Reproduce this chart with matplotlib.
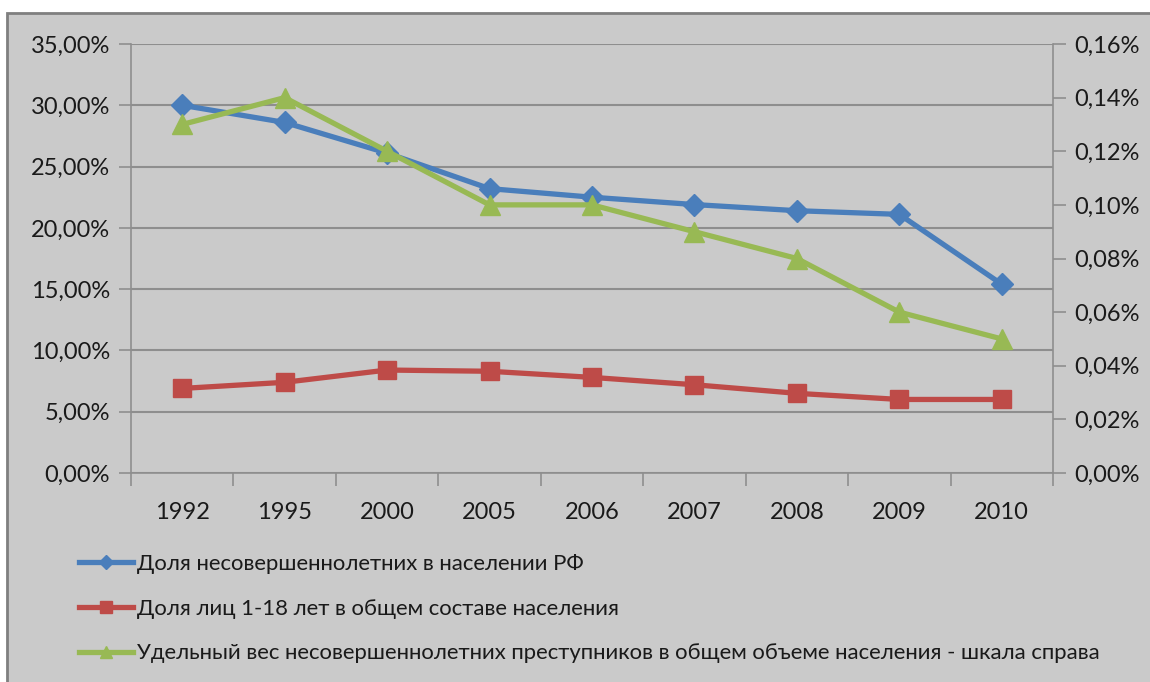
import matplotlib
matplotlib.use("Agg")
import matplotlib.pyplot as plt
from matplotlib.patches import Rectangle
from matplotlib.ticker import FuncFormatter, MultipleLocator
from matplotlib.lines import Line2D

years = ["1992", "1995", "2000", "2005", "2006", "2007", "2008", "2009", "2010"]
minors_share = [30.0, 28.6, 26.1, 23.2, 22.5, 21.9, 21.4, 21.1, 15.4]
age_1_18_share = [6.9, 7.4, 8.4, 8.3, 7.8, 7.2, 6.5, 6.0, 6.0]
offenders_share = [0.13, 0.14, 0.12, 0.10, 0.10, 0.09, 0.08, 0.06, 0.05]
labels = [
    "Доля несовершеннолетних в населении РФ",
    "Доля лиц 1-18 лет в общем составе населения",
    "Удельный вес несовершеннолетних преступников в общем объеме населения - шкала справа",
]

BLUE = "#4a7ebb"
RED = "#be4b48"
GREEN = "#98b954"
BG = "#cacaca"
GRID = "#8e8e8e"
TXT = "#1a1a1a"

plt.rcParams["font.family"] = ["Lato", "DejaVu Sans"]

W, H = 1150, 682
fig = plt.figure(figsize=(W / 100, H / 100), dpi=100, facecolor="white")
fig.patches.append(Rectangle((7 / W, -0.01), 1.05, 1 - 13 / H + 0.01,
                             transform=fig.transFigure, facecolor=BG,
                             edgecolor="#7f7f7f", linewidth=2, zorder=-5))

ax = fig.add_axes([131 / W, 1 - 473 / H, (1053 - 131) / W, (473 - 44) / H])
ax.set_facecolor("none")
x = list(range(len(years)))

ax.set_xlim(-0.5, len(years) - 0.5)
ax.set_ylim(0, 35)
ax.yaxis.set_major_locator(MultipleLocator(5))
ax.yaxis.set_major_formatter(FuncFormatter(lambda v, p: f"{v:.2f}%".replace(".", ",")))
ax.set_xticks(x)
ax.set_xticklabels(years)
ax.set_xticks([i - 0.5 for i in range(len(years) + 1)], minor=True)
ax.tick_params(axis="x", which="major", length=0, pad=21, labelsize=17, labelcolor=TXT)
ax.tick_params(axis="x", which="minor", length=9, color=GRID, width=1.2)
ax.tick_params(axis="y", length=9, color=GRID, width=1.2, labelsize=17, labelcolor=TXT, pad=6)
ax.grid(axis="y", color=GRID, linewidth=1.5, zorder=1)
ax.set_axisbelow(True)
ax.spines["top"].set_visible(False)
for s in ["left", "bottom", "right"]:
    ax.spines[s].set_color(GRID)
    ax.spines[s].set_linewidth(1.2)

ax.plot(x, minors_share, color=BLUE, lw=3.8, marker="D", ms=11, zorder=3)
ax.plot(x, age_1_18_share, color=RED, lw=3.8, marker="s", ms=13, zorder=3)

ax2 = ax.twinx()
ax2.set_ylim(0, 0.16)
ax2.yaxis.set_major_locator(MultipleLocator(0.02))
ax2.yaxis.set_major_formatter(FuncFormatter(lambda v, p: f"{v:.2f}%".replace(".", ",")))
ax2.tick_params(axis="y", length=9, color=GRID, width=1.2, labelsize=17, labelcolor=TXT, pad=6)
for s in ["left", "bottom", "right", "top"]:
    ax2.spines[s].set_visible(False)
ax2.plot(x, offenders_share, color=GREEN, lw=3.8, marker="^", ms=14, zorder=3)

handles = [
    Line2D([], [], color=BLUE, lw=3.8, marker="D", ms=7),
    Line2D([], [], color=RED, lw=3.8, marker="s", ms=9),
    Line2D([], [], color=GREEN, lw=3.8, marker="^", ms=9),
]
fig.legend(handles, labels, loc="upper left", bbox_to_anchor=(70 / W, 1 - 545 / H),
           frameon=False, fontsize=15.9, handlelength=2.45, handletextpad=0.2,
           labelspacing=1.12, labelcolor=TXT, borderaxespad=0)

fig.savefig("out.png", dpi=100, facecolor="white")
